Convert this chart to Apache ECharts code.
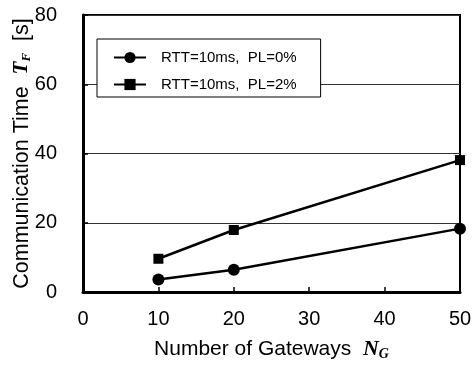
<!DOCTYPE html>
<html lang="en">
<head>
    <meta charset="UTF-8">
    <title>Communication Time</title>
    <style>
        html, body { margin: 0; padding: 0; background: #fff; }
    </style>
</head>
<body>
    <div id="chart" style="width:473px;height:366px;"></div>
</body>
<script src="https://cdn.jsdelivr.net/npm/echarts@6/dist/echarts.min.js"></script>
<script>
    // data
    var gateways = [10, 20, 50];
    var pl0 = [3.6, 6.4, 18.3];
    var pl2 = [9.6, 17.9, 38.1];
    var seriesNames = ['RTT=10ms,  PL=0%', 'RTT=10ms,  PL=2%'];

    var font = 'Liberation Sans';

    function pairs(xs, ys) {
        return xs.map(function (x, i) { return [x, ys[i]]; });
    }

    var chart = echarts.init(document.getElementById('chart'));
    chart.setOption({
        animation: false,
        grid: {
            left: 83, right: 13, top: 15, bottom: 74,
            outerBoundsMode: 'none',
            containLabel: false,
            show: true,
            borderColor: '#000',
            borderWidth: 2
        },
        legend: {
            orient: 'vertical',
            left: 97, top: 39,
            padding: [11, 24, 5, 16],
            itemGap: 12,
            itemWidth: 32,
            itemHeight: 14,
            backgroundColor: '#fff',
            borderColor: '#000',
            borderWidth: 1,
            textStyle: { fontFamily: font, fontSize: 15, color: '#000', padding: [0, 0, 0, 10] },
            data: seriesNames
        },
        xAxis: {
            type: 'value',
            min: 0, max: 50, interval: 10,
            name: '{t|Number of Gateways  }{i|N}{s|G}',
            nameLocation: 'middle',
            nameGap: 46,
            nameMoveOverlap: false,
            nameTextStyle: {
                rich: {
                    t: { fontFamily: font, fontSize: 21, color: '#000' },
                    i: { fontFamily: 'Liberation Serif', fontStyle: 'italic', fontWeight: 'bold', fontSize: 22, color: '#000' },
                    s: { fontFamily: 'Liberation Serif', fontStyle: 'italic', fontWeight: 'bold', fontSize: 14, color: '#000', padding: [9, 0, 0, 0] }
                }
            },
            axisLine: { lineStyle: { color: '#000', width: 3 } },
            axisTick: { inside: true, length: 5, lineStyle: { color: '#000', width: 1.5 } },
            axisLabel: { fontFamily: font, fontSize: 20, color: '#000', margin: 17 },
            splitLine: { show: false }
        },
        yAxis: {
            type: 'value',
            min: 0, max: 80, interval: 20,
            name: '{t|Communication Time  }{i|T}{s|F}{t|  [s]}',
            nameLocation: 'middle',
            nameRotate: 90,
            nameGap: 50,
            nameMoveOverlap: false,
            nameTextStyle: {
                rich: {
                    t: { fontFamily: font, fontSize: 21.5, color: '#000' },
                    i: { fontFamily: 'Liberation Serif', fontStyle: 'italic', fontWeight: 'bold', fontSize: 21, color: '#000' },
                    s: { fontFamily: 'Liberation Serif', fontStyle: 'italic', fontWeight: 'bold', fontSize: 13, color: '#000', padding: [9, 0, 0, 0] }
                }
            },
            axisLine: { lineStyle: { color: '#000', width: 3 } },
            axisTick: { inside: true, length: 5, lineStyle: { color: '#000', width: 1.5 } },
            axisLabel: { fontFamily: font, fontSize: 20, color: '#000', margin: 26 },
            splitLine: { lineStyle: { color: '#333', width: 1 } }
        },
        series: [
            {
                name: seriesNames[0],
                type: 'line',
                data: pairs(gateways, pl0),
                symbol: 'circle',
                symbolSize: 12,
                itemStyle: { color: '#000' },
                lineStyle: { color: '#000', width: 2.5 }
            },
            {
                name: seriesNames[1],
                type: 'line',
                data: pairs(gateways, pl2),
                symbol: 'rect',
                symbolSize: 10,
                itemStyle: { color: '#000' },
                lineStyle: { color: '#000', width: 2.5 }
            }
        ]
    });
</script>
</html>
